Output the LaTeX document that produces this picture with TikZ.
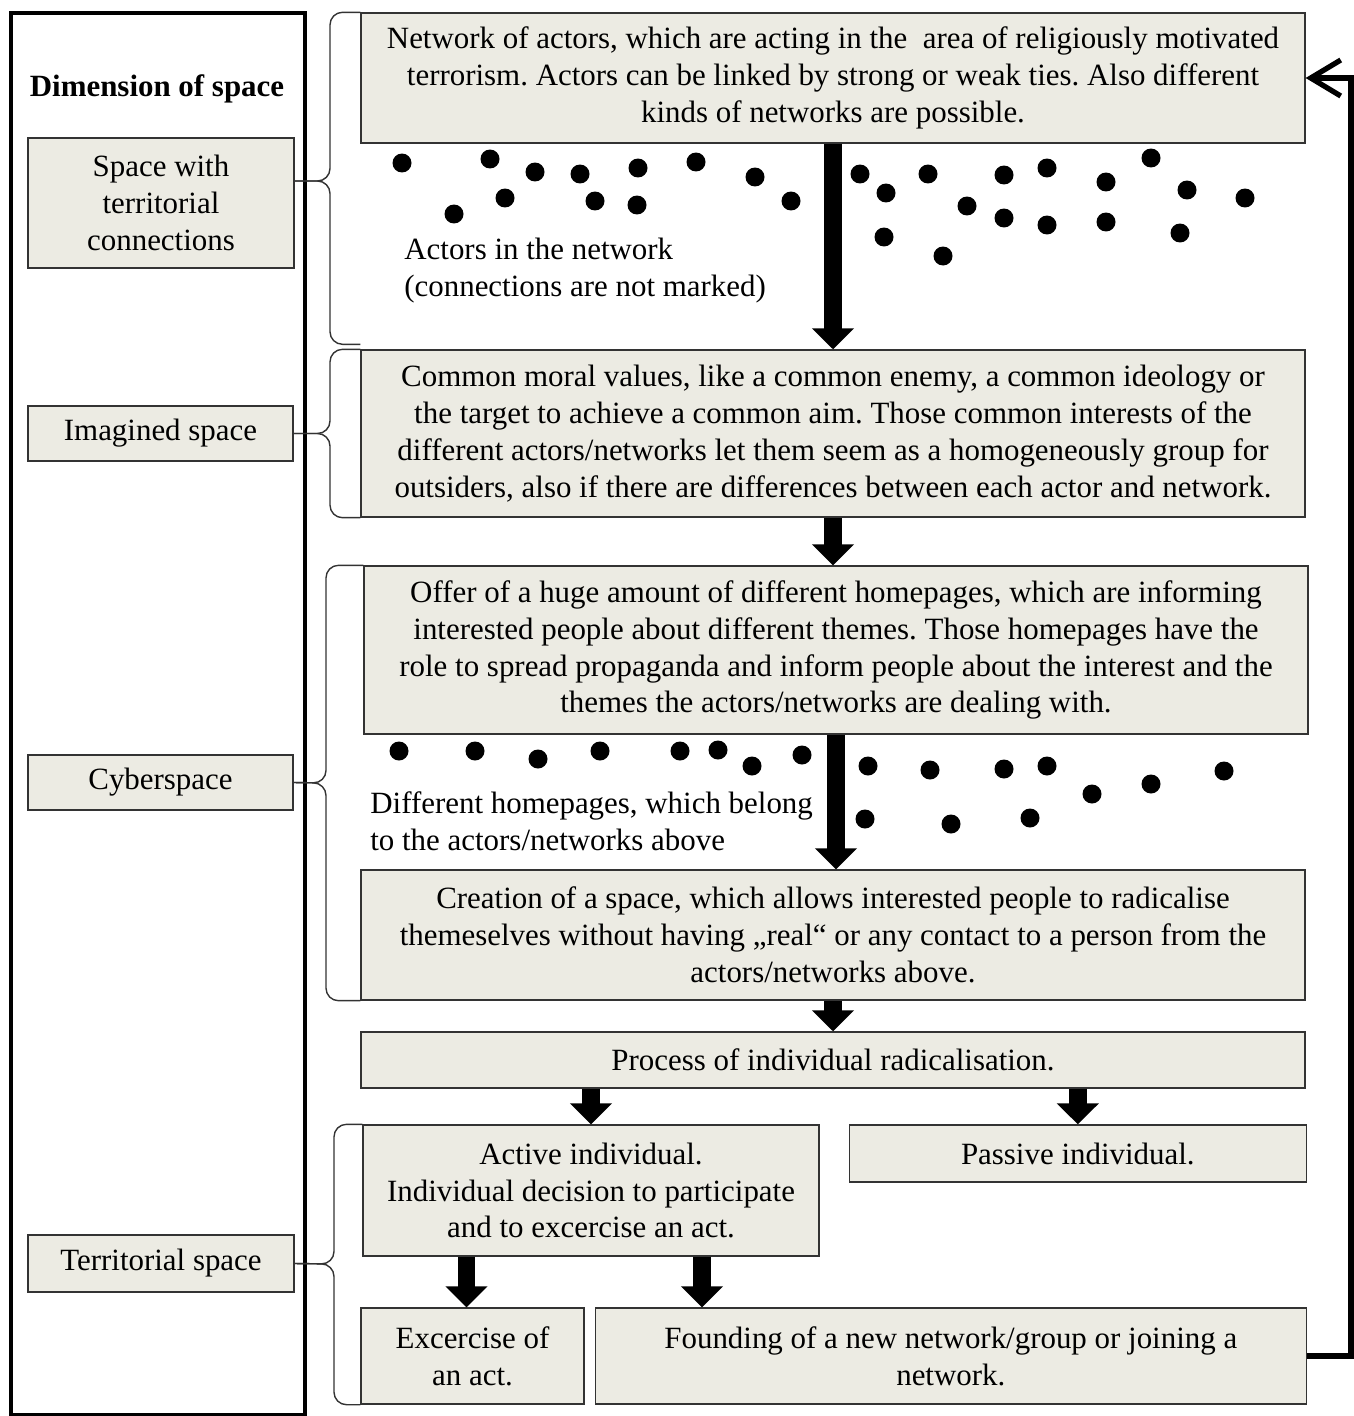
\documentclass[tikz,border=0pt]{standalone}
\usepackage{fontspec}
\setmainfont{Liberation Serif}
\usepackage{tikz}
\usetikzlibrary{arrows.meta,positioning,calc}
\definecolor{boxfill}{HTML}{ECEBE3}
\definecolor{boxline}{HTML}{333333}
\frenchspacing

\begin{document}
\begin{tikzpicture}[x=0.02cm, y=-0.02cm, every node/.style={font=\fontsize{17.6}{21}\selectfont},
  box/.style={rectangle, draw=boxline, line width=0.8pt, fill=boxfill, inner sep=0pt, align=center},
  bigarrow/.style={-{Triangle[width=0.82cm, length=0.42cm]}, line width=10pt},
  bracket/.style={draw=boxline, line width=0.8pt, rounded corners=0.25cm}]
\useasboundingbox (0,0) rectangle (1354,1416);
\draw[line width=2.3pt] (11,13) rectangle (305,1415);
\node[font=\fontsize{17.6}{21}\selectfont\bfseries] (title) at (157,89) {Dimension of space};
\node[box, minimum width=5.32cm, minimum height=2.6cm] (terr1) at (161,203) {Space with\\territorial\\connections};
\node[box, minimum width=5.3cm, minimum height=1.1cm] (imag) at (160.5,433.5) {Imagined space};
\node[box, minimum width=5.3cm, minimum height=1.1cm] (cyber) at (160.5,782.5) {Cyberspace};
\node[box, minimum width=5.32cm, minimum height=1.14cm] (terr2) at (161,1263.5) {Territorial space};
\node[box, minimum width=18.88cm, minimum height=2.6cm] (net) at (833,78) {Network of actors, which are acting in the \ area of religiously motivated\\terrorism. Actors can be linked by strong or weak ties. Also different\\kinds of networks are possible.};
\node[box, minimum width=18.88cm, minimum height=3.34cm] (moral) at (833,433.5) {Common moral values, like a common enemy, a common ideology or\\the target to achieve a common aim. Those common interests of the\\different actors/networks let them seem as a homogeneously group for\\outsiders, also if there are differences between each actor and network.};
\node[box, minimum width=18.88cm, minimum height=3.36cm] (web) at (836,650) {Offer of a huge amount of different homepages, which are informing\\interested people about different themes. Those homepages have the\\role to spread propaganda and inform people about the interest and the\\themes the actors/networks are dealing with.};
\node[box, minimum width=18.88cm, minimum height=2.6cm] (space) at (833,935) {Creation of a space, which allows interested people to radicalise\\themeselves without having „real“ or any contact to a person from the\\actors/networks above.};
\node[box, minimum width=18.88cm, minimum height=1.12cm] (proc) at (833,1060) {Process of individual radicalisation.};
\node[box, minimum width=9.12cm, minimum height=2.62cm] (act) at (591,1190.5) {Active individual.\\Individual decision to participate\\and to excercise an act.};
\node[box, minimum width=9.14cm, minimum height=1.14cm, right=0.58cm of act.north east, anchor=north west] (pass) {Passive individual.};
\node[box, minimum width=4.46cm, minimum height=1.92cm] (exc) at (472.5,1356) {Excercise of\\an act.};
\node[box, minimum width=14.22cm, minimum height=1.92cm, right=0.2cm of exc] (found) {Founding of a new network/group or joining a\\network.};
\node[align=left, anchor=west, inner sep=0pt] (lab1) at (404,270.5) {Actors in the network\\(connections are not marked)};
\node[align=left, anchor=west, inner sep=0pt] (lab2) at (370,821.5) {Different homepages, which belong\\to the actors/networks above};
\foreach \x/\y in {402/163, 490/159, 535/172, 580/174, 638/168, 696/162, 755/177, 791/201, 454/214, 505/198, 595/201, 637/205,
  860/174, 886/193, 928/174, 967/206, 1004/175, 1047/168, 1106/182, 1151/158, 1187/190, 1245/198,
  884/237, 943/256, 1004/218, 1047/225, 1106/222, 1180/233}
  \fill (\x,\y) circle[radius=0.19cm];
\foreach \x/\y in {399/751, 475/751, 538/759, 600/751, 680/751, 718/750, 752/766, 802/755,
  868/766, 930/770, 1004/769, 1047/766, 1092/794, 1151/784, 1224/771, 865/819, 951/824, 1030/818}
  \fill (\x,\y) circle[radius=0.19cm];
\draw[bigarrow] (net) -- (moral);
\draw[bigarrow] (moral.south) -- (moral.south |- web.north);
\draw[bigarrow] (web.south) -- (web.south |- space.north);
\draw[bigarrow] (space) -- (proc);
\draw[bigarrow] (proc.south -| act.north) -- (act.north);
\draw[bigarrow] (proc.south -| pass.north) -- (pass.north);
\draw[bigarrow] ([xshift=-0.12cm]act.south -| exc.north) -- ([xshift=-0.12cm]exc.north);
\draw[bigarrow] ([xshift=2.22cm]act.south) -- ([xshift=2.22cm]act.south |- found.north);
\draw[line width=3pt, -{Straight Barb[length=0.6cm, width=0.72cm]}] (found.east) -- ++(44,0) |- (net.east);
\draw[bracket] (net.north west) -| (330,181) -- (terr1.east |- 0,181);
\draw[bracket] ([yshift=0.1cm]moral.north west) -| (330,181) -- (terr1.east |- 0,181);
\draw[bracket] (moral.north west) -| (330,433.5) -- (imag.east);
\draw[bracket] (moral.south west) -| (330,433.5) -- (imag.east);
\draw[bracket] (web.north west) -| (326,783) -- (cyber.east);
\draw[bracket] (space.south west) -| (326,783) -- (cyber.east);
\draw[bracket] (act.north west) -| (334,1264) -- (terr2.east);
\draw[bracket] (exc.south west) -| (334,1264) -- (terr2.east);
\end{tikzpicture}
\end{document}
